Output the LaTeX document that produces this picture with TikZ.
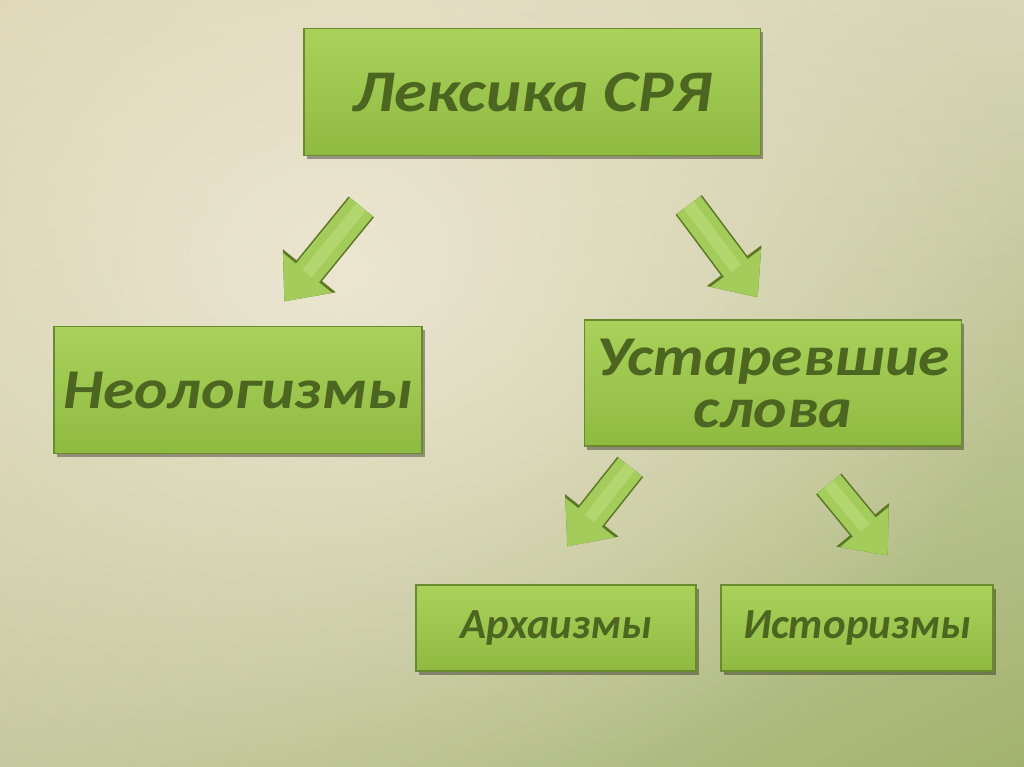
\documentclass[tikz,border=0pt]{standalone}
\usepackage{fontspec}
\setmainfont{Carlito}
\newfontfamily\widefont{Carlito}[FakeStretch=1.13]
\usetikzlibrary{arrows.meta, shadows, shadings, fadings}

\definecolor{bgul}{HTML}{DAD1AD}
\definecolor{bgur}{HTML}{D8D6B8}
\definecolor{bgll}{HTML}{C6C99F}
\definecolor{bglr}{HTML}{A2B36E}
\definecolor{bgcream}{HTML}{EFE9D6}
\definecolor{boxtop}{HTML}{AAD25B}
\definecolor{boxbot}{HTML}{8FBA40}
\definecolor{boxedge}{HTML}{6A8A2E}
\definecolor{txtgreen}{HTML}{4C6621}
\definecolor{arrfill}{HTML}{A4CC5A}
\definecolor{arredge}{HTML}{5C7826}
\definecolor{arrlight}{HTML}{C6E38A}

\tikzfading[name=softspot, inner color=transparent!0, outer color=transparent!100]

\begin{document}
\begin{tikzpicture}[
    x=0.025cm, y=-0.025cm,
    box/.style={draw=boxedge, line width=0.8pt, top color=boxtop, bottom color=boxbot,
      align=center, text=txtgreen, font=\bfseries\itshape,
      drop shadow={shadow xshift=2pt, shadow yshift=-2.5pt, fill=black, opacity=0.35}},
    blockarrow/.style={draw=arrfill, line width=0.74cm, shorten >=0.05cm, shorten <=0.03cm,
      -{Triangle[length=0.92cm, width=1.52cm]},
      preaction={draw=arredge, line width=0.82cm, -{Triangle[length=0.99cm, width=1.64cm]}},
      postaction={draw=arrlight, line width=0.3cm, opacity=0.45, shorten >=0.95cm, -}}
  ]
  % background
  \useasboundingbox (0,0) rectangle (1024,767);
  \begin{scope}
    \clip (0,0) rectangle (1024,767);
    \shade[upper left=bgul, upper right=bgur, lower left=bgll, lower right=bglr]
      (0,0) rectangle (1024,767);
    \fill[bgcream, opacity=0.9, path fading=softspot] (340,270) ellipse (700 and 560);
  \end{scope}

  % boxes
  \node[box, minimum width=11.4cm, minimum height=3.175cm, font=\widefont\bfseries\itshape\fontsize{42}{46}\selectfont]
    (leks) at (532,92) {Лексика СРЯ};
  \node[box, minimum width=9.2cm, minimum height=3.175cm, font=\widefont\bfseries\itshape\fontsize{40}{37}\selectfont]
    (neo) at (238,390) {Неологизмы};
  \node[box, minimum width=9.425cm, minimum height=3.15cm, font=\widefont\bfseries\itshape\fontsize{40}{37}\selectfont]
    (ustar) at (773,383) {Устаревшие\\слова};
  \node[box, minimum width=7cm, minimum height=2.15cm, font=\bfseries\itshape\fontsize{30.5}{34}\selectfont]
    (arh) at (556,628) {Архаизмы};
  \node[box, minimum width=6.8cm, minimum height=2.15cm, font=\bfseries\itshape\fontsize{30.5}{34}\selectfont]
    (ist) at (857,628) {Историзмы};

  % arrow ends
  \coordinate (neotail) at (362,206);
  \coordinate (neotip) at (283,303);
  \coordinate (ustail) at (688,204);
  \coordinate (ustip) at (759,299);
  \coordinate (arhtail) at (631,466);
  \coordinate (arhtip) at (566,548);
  \coordinate (isttail) at (828,483);
  \coordinate (isttip) at (889,557);

  \draw[blockarrow] (neotail) -- (neotip);
  \draw[blockarrow] (ustail) -- (ustip);
  \draw[blockarrow] (arhtail) -- (arhtip);
  \draw[blockarrow] (isttail) -- (isttip);
\end{tikzpicture}
\end{document}
